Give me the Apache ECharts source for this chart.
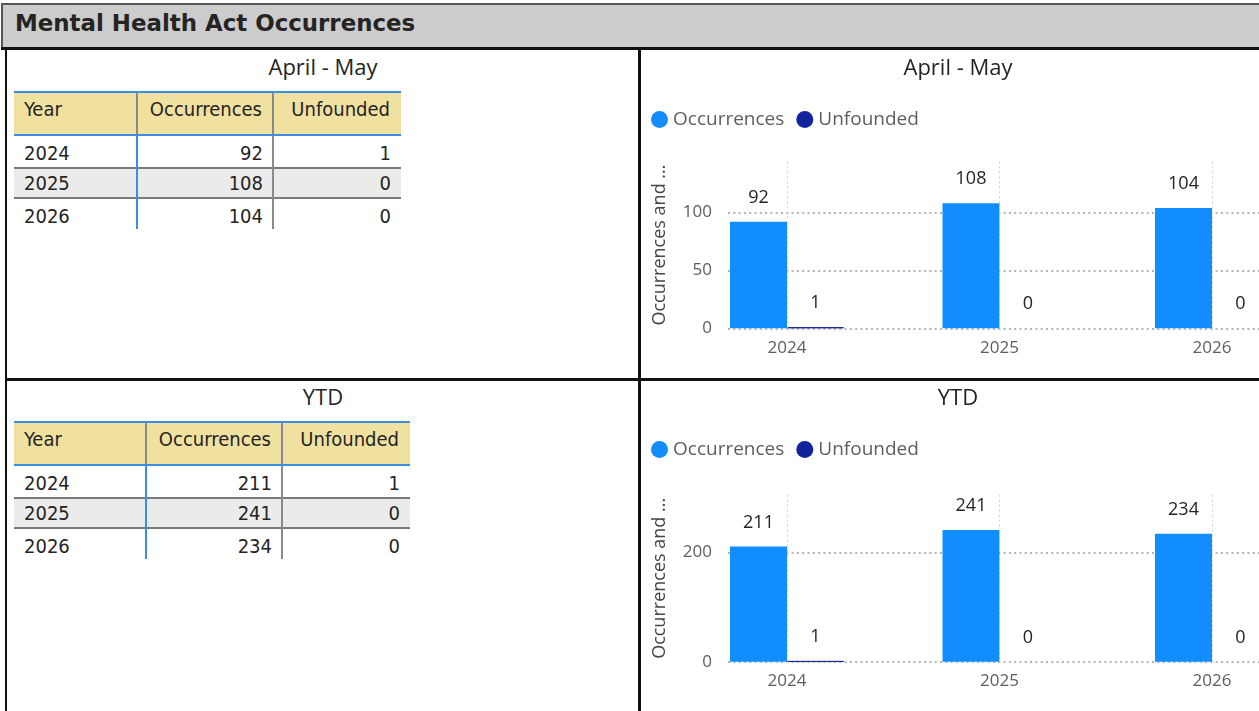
<!DOCTYPE html>
<html>
<head>
<meta charset="utf-8">
<script src="https://cdn.jsdelivr.net/npm/echarts@6/dist/echarts.min.js"></script>
<style>
  html, body { margin: 0; padding: 0; width: 1259px; height: 711px; overflow: hidden; background: #ffffff; }
  #page { position: relative; width: 1259px; height: 711px; overflow: hidden; background: #ffffff; }
  .abs { position: absolute; box-sizing: border-box; }
  .titlebar { left: 1px; top: 3px; width: 1300px; height: 45px; background: #cccccc;
              border-top: 2px solid #555555; border-left: 2px solid #555555; }
  .titletext { left: 15px; top: 5px; height: 40px; line-height: 36px; white-space: nowrap;
               font-family: "DejaVu Sans", sans-serif; font-weight: bold;
               font-size: 22.9px; color: #252423; }
  .line { background: #111111; z-index: 5; }
  .ptitle { font-family: "Open Sans", sans-serif; font-size: 22px; color: #252423; white-space: nowrap;
            text-align: center; width: 200px; height: 30px; line-height: 30px; }
  .tcell { font-family: "DejaVu Sans Condensed", "DejaVu Sans", sans-serif; font-stretch: condensed;
           font-size: 20px; color: #252423; white-space: nowrap; }
  .chart { z-index: 1; }
</style>
</head>
<body>
<div id="page">
  <div class="abs titlebar"></div>
  <div class="abs titletext" id="mainTitle"></div>
  <!-- frame lines -->
  <div class="abs line" style="left:1px; top:47px; width:1300px; height:3px;"></div>
  <div class="abs line" style="left:5px; top:50px; width:2px; height:700px;"></div>
  <div class="abs line" style="left:638px; top:50px; width:3px; height:700px;"></div>
  <div class="abs line" style="left:5px; top:378px; width:1300px; height:3px;"></div>
  <div id="chartTop" class="abs chart" style="left:641px; top:51px; width:720px; height:326px;"></div>
  <div id="chartBottom" class="abs chart" style="left:641px; top:381px; width:720px; height:330px;"></div>
</div>
<script>
// ---------- data ----------
const mainTitle = 'Mental Health Act Occurrences';
const panelTitles = ['April - May', 'YTD'];
const tableHeaders = ['Year', 'Occurrences', 'Unfounded'];
const years = ['2024', '2025', '2026'];
const aprMayOccurrences = [92, 108, 104];
const aprMayUnfounded = [1, 0, 0];
const ytdOccurrences = [211, 241, 234];
const ytdUnfounded = [1, 0, 0];
const legendNames = ['Occurrences', 'Unfounded'];
const yAxisName = 'Occurrences and ...';
const axisMax = [144, 305];
const yTickMax = [100, 200];
const yTickStep = [50, 200];

// ---------- page frame ----------
const page = document.getElementById('page');
document.getElementById('mainTitle').textContent = mainTitle;

function addDiv(cls, style, text) {
  const d = document.createElement('div');
  d.className = 'abs ' + (cls || '');
  Object.assign(d.style, style);
  if (text !== undefined) d.textContent = text;
  page.appendChild(d);
  return d;
}

const BLUE = '#3a8ee6';
const BEIGE = '#f0e1a1';
const GREYROW = '#ebebeb';
const SEP = '#7a7a7a';

function buildTable(title, x0, y0, colW, occ, unf) {
  const W = colW[0] + colW[1] + colW[2];
  addDiv('ptitle', { left: (323 - 100) + 'px', top: (y0 - 40) + 'px' }, title);
  // header
  addDiv('', { left: x0 + 'px', top: y0 + 'px', width: W + 'px', height: '45px', background: BEIGE,
               borderTop: '2px solid ' + BLUE, borderBottom: '2px solid ' + BLUE });
  const hx = [x0, x0 + colW[0], x0 + colW[0] + colW[1]];
  tableHeaders.forEach((h, i) => {
    const st = { top: (y0 + 2) + 'px', height: '41px', lineHeight: '32px' };
    if (i === 0) { st.left = (hx[0] + 10) + 'px'; }
    else { st.left = hx[i] + 'px'; st.width = (colW[i] - 11) + 'px'; st.textAlign = 'right'; }
    addDiv('tcell', st, h);
  });
  // body rows
  const rowTop = [y0 + 45, y0 + 78, y0 + 108];
  const rowH = [31, 28, 30];
  const textTop = [y0 + 47, y0 + 78, y0 + 110];
  addDiv('', { left: x0 + 'px', top: rowTop[1] + 'px', width: W + 'px', height: rowH[1] + 'px', background: GREYROW });
  addDiv('', { left: x0 + 'px', top: (rowTop[1] - 2) + 'px', width: W + 'px', height: '2px', background: SEP });
  addDiv('', { left: x0 + 'px', top: (rowTop[1] + rowH[1]) + 'px', width: W + 'px', height: '2px', background: SEP });
  years.forEach((yr, r) => {
    const vals = [yr, String(occ[r]), String(unf[r])];
    vals.forEach((v, i) => {
      const st = { top: textTop[r] + 'px', height: rowH[r] + 'px', lineHeight: rowH[r] + 'px' };
      if (i === 0) { st.left = (hx[0] + 10) + 'px'; }
      else { st.left = hx[i] + 'px'; st.width = (colW[i] - 10) + 'px'; st.textAlign = 'right'; }
      addDiv('tcell', st, v);
    });
  });
  // vertical separators
  const bodyBottom = rowTop[2] + rowH[2];
  addDiv('', { left: (hx[1] - 1) + 'px', top: (y0 + 2) + 'px', width: '2px', height: '41px', background: '#8a8a8a' });
  addDiv('', { left: (hx[2] - 1) + 'px', top: (y0 + 2) + 'px', width: '2px', height: '41px', background: '#8a8a8a' });
  addDiv('', { left: (hx[1] - 1) + 'px', top: (y0 + 45) + 'px', width: '2px', height: (bodyBottom - y0 - 45) + 'px', background: BLUE });
  addDiv('', { left: (hx[2] - 1) + 'px', top: (y0 + 45) + 'px', width: '2px', height: (bodyBottom - y0 - 45) + 'px', background: '#8a8a8a' });
}

buildTable(panelTitles[0], 14, 91, [123, 136, 128], aprMayOccurrences, aprMayUnfounded);
buildTable(panelTitles[1], 14, 421, [132, 136, 128], ytdOccurrences, ytdUnfounded);

// ---------- charts ----------
const FONT = '"Open Sans", sans-serif';
function makeChart(el, title, occ, unf, idx, g0Top, g0H, g1Top, g1H) {
  const chart = echarts.init(el, null, { renderer: 'canvas' });
  const barLabel = { show: true, position: 'top', distance: 15, color: '#252423', fontSize: 18, fontFamily: FONT };
  chart.setOption({
    animation: false,
    textStyle: { fontFamily: FONT },
    graphic: [{ type: 'text', x: 317, y: 18, silent: true,
                style: { text: title, align: 'center', verticalAlign: 'middle',
                         fontSize: 22, fontFamily: FONT, fill: '#252423' } }],
    legend: { data: legendNames, left: 5, top: 54, icon: 'circle', itemWidth: 17, itemHeight: 17, itemGap: 12,
              textStyle: { color: '#605e5c', fontSize: 19, fontFamily: FONT } },
    grid: [
      { left: 39.75, top: g0Top, width: 637.5, height: g0H },
      { left: 87, top: g1Top, width: 620, height: g1H }
    ],
    xAxis: [
      { type: 'category', gridIndex: 0, data: years,
        axisLine: { show: false }, axisTick: { show: false }, splitLine: { show: false },
        axisLabel: { color: '#605e5c', fontSize: 17, margin: 11, fontFamily: FONT } },
      { type: 'value', gridIndex: 1, min: 0, max: 1, show: false }
    ],
    yAxis: [
      { type: 'value', gridIndex: 0, min: 0, max: axisMax[idx],
        axisLabel: { show: false }, axisLine: { show: false }, axisTick: { show: false }, splitLine: { show: false },
        name: yAxisName, nameLocation: 'middle', nameRotate: 90, nameGap: 12,
        nameTextStyle: { color: '#484644', fontSize: 18, fontFamily: FONT } },
      { type: 'value', gridIndex: 1, min: 0, max: yTickMax[idx], interval: yTickStep[idx],
        axisLine: { show: false }, axisTick: { show: false },
        axisLabel: { color: '#605e5c', fontSize: 17, margin: 16, fontFamily: FONT },
        splitLine: { show: true, lineStyle: { color: '#9a9a9a', width: 1.5, type: [2, 3.3] } } }
    ],
    series: [
      { name: 'categoryLines', type: 'line', xAxisIndex: 0, yAxisIndex: 0, data: [], z: 1,
        markLine: { silent: true, symbol: ['none', 'none'], label: { show: false },
                    lineStyle: { color: '#cfcfcf', width: 1, type: [2, 3] },
                    data: years.map(y => ({ xAxis: y })) } },
      { name: legendNames[0], type: 'bar', xAxisIndex: 0, yAxisIndex: 0, data: occ,
        barWidth: 57, barGap: '0%', itemStyle: { color: '#118dff' }, label: barLabel },
      { name: legendNames[1], type: 'bar', xAxisIndex: 0, yAxisIndex: 0,
        data: unf.map(v => v > 0 ? { value: v, itemStyle: { borderColor: '#12239e', borderWidth: 1 } } : v),
        barWidth: 57, barGap: '0%', itemStyle: { color: '#12239e' }, label: barLabel }
    ]
  });
  return chart;
}

makeChart(document.getElementById('chartTop'), panelTitles[0], aprMayOccurrences, aprMayUnfounded, 0,
          110.7, 166.6, 161.5, 115.8);
makeChart(document.getElementById('chartBottom'), panelTitles[1], ytdOccurrences, ytdUnfounded, 1,
          114, 166.7, 171.3, 109.4);
</script>
</body>
</html>
